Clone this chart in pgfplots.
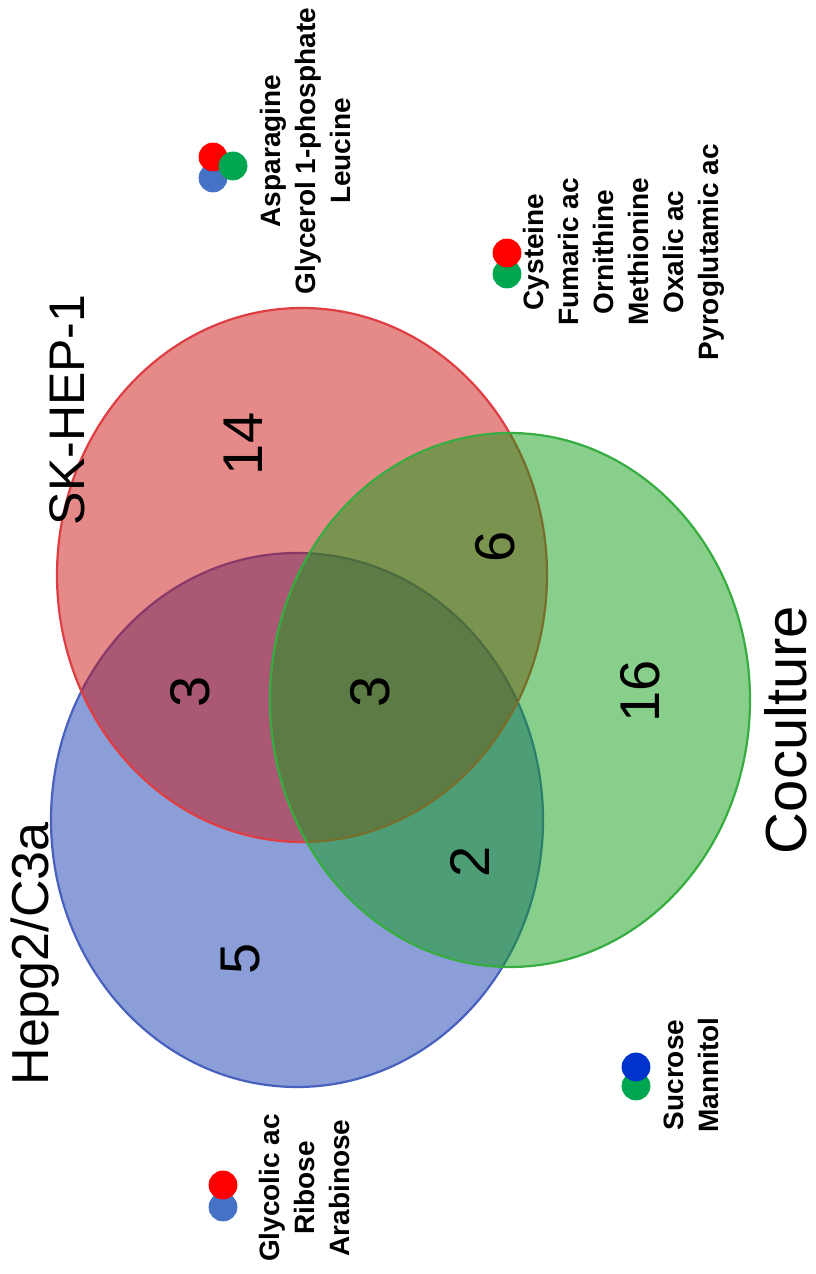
\documentclass[border=0pt]{standalone}
\usepackage{pgfplots}
\pgfplotsset{compat=1.18}
\usepackage{fontspec}
\setmainfont{Liberation Sans}
\definecolor{vred}{RGB}{203,19,19}
\definecolor{vblue}{RGB}{25,61,177}
\definecolor{vgreen}{RGB}{17,159,23}
\definecolor{ered}{RGB}{222,62,66}
\definecolor{eblue}{RGB}{72,96,190}
\definecolor{egreen}{RGB}{55,172,65}
\definecolor{dred}{RGB}{255,0,0}
\definecolor{dgreen}{RGB}{0,166,80}
\definecolor{dblue}{RGB}{68,114,196}
\definecolor{dblue2}{RGB}{0,51,204}
\begin{document}
\begin{tikzpicture}
\begin{axis}[scale only axis, width=407.5pt, height=637pt,
  xmin=0, xmax=815, ymin=0, ymax=1274, axis lines=none, clip=false]
% Venn sets (centre x, centre y, radii in axis units)
\draw[draw=eblue, line width=1.1pt, fill=vblue, fill opacity=0.5] (axis cs:297,454) ellipse [x radius=246, y radius=267];
\draw[draw=ered, line width=1.1pt, fill=vred, fill opacity=0.5] (axis cs:302,699) ellipse [x radius=245, y radius=267];
\draw[draw=egreen, line width=1.1pt, fill=vgreen, fill opacity=0.5] (axis cs:510,574) ellipse [x radius=240, y radius=267];
% counts
\begin{scope}[every node/.style={rotate=90, inner sep=0pt, font=\fontsize{28}{34}\selectfont}]
\node at (axis cs:243,830) {14};
\node at (axis cs:495,727) {6};
\node at (axis cs:190,582) {3};
\node at (axis cs:370,582) {3};
\node at (axis cs:640,583) {16};
\node at (axis cs:470,412) {2};
\node at (axis cs:241,315) {5};
\end{scope}
% set labels
\begin{scope}[every node/.style={rotate=90, inner sep=0pt, font=\fontsize{25}{30}\selectfont}]
\node at (axis cs:67,864) {SK-HEP-1};
\node[font=\fontsize{26}{30}\selectfont] at (axis cs:35,320) {Hepg2/C3a};
\node[font=\fontsize{29}{34}\selectfont] at (axis cs:786,544) {Coculture};
\end{scope}
% marker dots
\addplot[only marks, mark=*, mark size=7pt, color=dblue] coordinates {(213,1096)};
\addplot[only marks, mark=*, mark size=7pt, color=dred] coordinates {(213,1117)};
\addplot[only marks, mark=*, mark size=7pt, color=dgreen] coordinates {(233,1108)};
\addplot[only marks, mark=*, mark size=7pt, color=dgreen] coordinates {(507,1000)};
\addplot[only marks, mark=*, mark size=7pt, color=dred] coordinates {(507,1021)};
\addplot[only marks, mark=*, mark size=7pt, color=dgreen] coordinates {(636,188)};
\addplot[only marks, mark=*, mark size=7pt, color=dblue2] coordinates {(636,207)};
\addplot[only marks, mark=*, mark size=7pt, color=dblue] coordinates {(223,67)};
\addplot[only marks, mark=*, mark size=7pt, color=dred] coordinates {(223,89)};
% metabolite lists
\begin{scope}[every node/.style={rotate=90, inner sep=0pt, align=center, font=\bfseries\fontsize{14}{17.5}\selectfont}]
\node at (axis cs:305,1123) {Asparagine\\Glycerol 1-phosphate\\Leucine};
\node at (axis cs:624,1022) {Cysteine\\Fumaric ac\\Ornithine\\Methionine\\Oxalic ac\\Pyroglutamic ac};
\node at (axis cs:304,86) {Glycolic ac\\Ribose\\Arabinose};
\node at (axis cs:691,199) {Sucrose\\Mannitol};
\end{scope}
\end{axis}
\pgfresetboundingbox
\path (current axis.south west) rectangle (current axis.north east);
\end{tikzpicture}
\end{document}
